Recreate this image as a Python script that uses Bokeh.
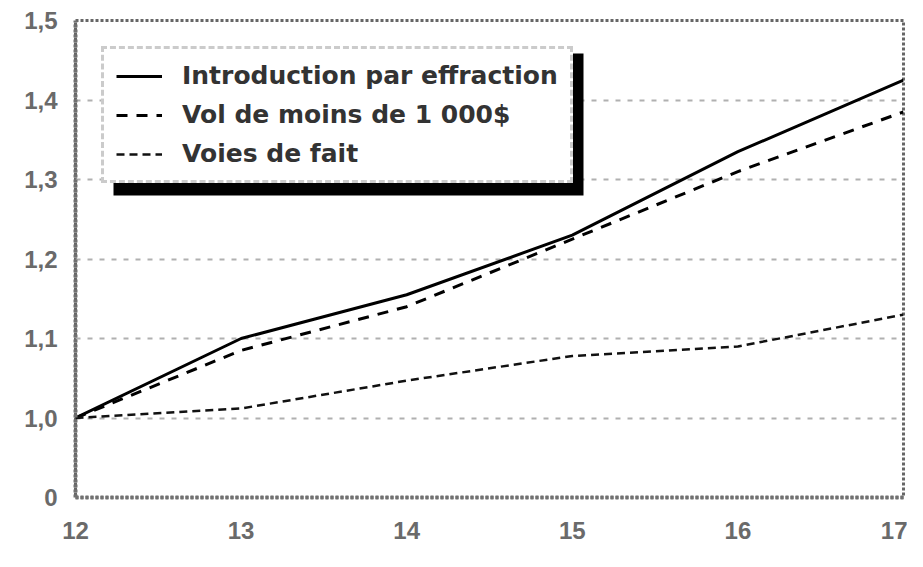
from bokeh.plotting import figure
from bokeh.models import FixedTicker, BoxAnnotation, Range1d
from bokeh.embed import file_html
from bokeh.resources import INLINE

years = [12, 13, 14, 15, 16, 17]
effraction = [1.00, 1.10, 1.155, 1.23, 1.335, 1.425]
vol_moins_1000 = [1.00, 1.085, 1.14, 1.225, 1.31, 1.385]
voies_de_fait = [1.00, 1.012, 1.047, 1.078, 1.09, 1.13]

labels = ["Introduction par effraction", "Vol de moins de 1 000$", "Voies de fait"]

y_ticks = [0.9, 1.0, 1.1, 1.2, 1.3, 1.4, 1.5]
y_tick_labels = ["0", "1,0", "1,1", "1,2", "1,3", "1,4", "1,5"]
x_ticks = [12, 13, 14, 15, 16, 17]
x_tick_labels = ["12", "13", "14", "15", "16", "17"]

p = figure(width=907, height=551, output_backend="svg", toolbar_location=None,
           x_range=Range1d(12, 17), y_range=Range1d(0.9, 1.5),
           min_border_left=75, min_border_right=4, min_border_top=20, min_border_bottom=54)

p.background_fill_color = "white"
p.outline_line_color = "#666666"
p.outline_line_width = 3
p.outline_line_dash = "3 2"

for ax in (p.xaxis, p.yaxis):
    ax.axis_line_color = "#707070"
    ax.axis_line_width = 4
    ax.axis_line_dash = "3 2"
    ax.major_tick_line_color = None
    ax.minor_tick_line_color = None
    ax.major_label_text_font = "Liberation Sans"
    ax.major_label_text_font_size = "24px"
    ax.major_label_text_color = "#6a6a6a"
    ax.major_label_text_font_style = "bold"

p.xaxis.ticker = FixedTicker(ticks=x_ticks)
p.xaxis.major_label_overrides = dict(zip(x_ticks, x_tick_labels))
p.xaxis.major_label_standoff = 18
p.yaxis.ticker = FixedTicker(ticks=y_ticks)
p.yaxis.major_label_overrides = dict(zip(y_ticks, y_tick_labels))
p.yaxis.major_label_standoff = 12

p.xgrid.grid_line_color = None
p.ygrid.ticker = FixedTicker(ticks=y_ticks)
p.ygrid.grid_line_color = "#b0b0b0"
p.ygrid.grid_line_width = 2
p.ygrid.grid_line_dash = "5 7"

# legend shadow
shadow = BoxAnnotation(left=113, right=583, top=53, bottom=195,
                       left_units="canvas", right_units="canvas",
                       top_units="canvas", bottom_units="canvas",
                       fill_color="black", fill_alpha=1.0, line_color=None, level="underlay")
p.add_layout(shadow)

p.line(years, effraction, line_color="black", line_width=3, legend_label=labels[0])
p.line(years, vol_moins_1000, line_color="black", line_width=3, line_dash="11 9", legend_label=labels[1])
p.line(years, voies_de_fait, line_color="#111111", line_width=2.5, line_dash="8 5", legend_label=labels[2])

lg = p.legend[0]
lg.location = "top_left"
lg.margin = 26
lg.padding = 12
lg.spacing = 10
lg.glyph_width = 46
lg.glyph_height = 28
lg.label_height = 28
lg.label_standoff = 20
lg.label_text_font = "DejaVu Sans"
lg.label_text_font_style = "bold"
lg.label_text_font_size = "25px"
lg.label_text_color = "#333333"
lg.border_line_color = "#999999"
lg.border_line_width = 3
lg.border_line_dash = "3 2"
lg.background_fill_color = "white"
lg.background_fill_alpha = 1.0

open("out.html", "w").write(file_html(p, INLINE))
